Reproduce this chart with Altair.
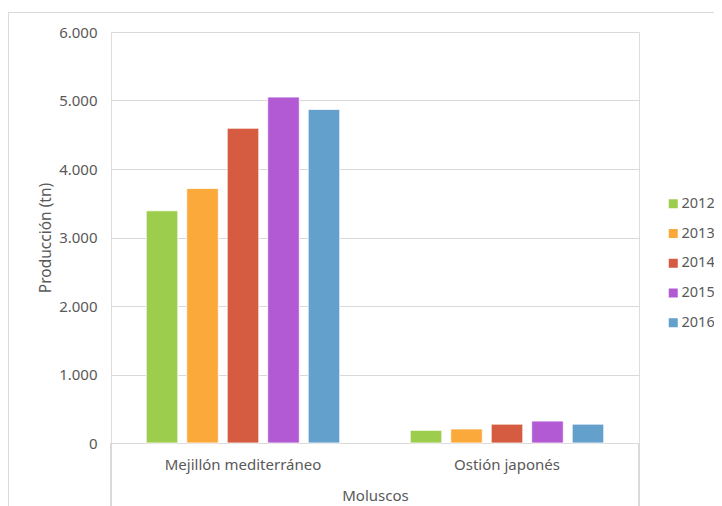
import altair as alt
import pandas as pd

categories = ["Mejillón mediterráneo", "Ostión japonés"]
years = ["2012", "2013", "2014", "2015", "2016"]
mejillon = [3390, 3715, 4595, 5050, 4870]
ostion = [185, 205, 275, 320, 275]
colors = ["#9dcd4c", "#fba93b", "#d55b41", "#b259d4", "#63a1cc"]
y_ticks = [0, 1000, 2000, 3000, 4000, 5000, 6000]

rows = []
for y, v in zip(years, mejillon):
    rows.append({"cat": categories[0], "year": y, "value": v})
for y, v in zip(years, ostion):
    rows.append({"cat": categories[1], "year": y, "value": v})
df = pd.DataFrame(rows)

FONT = "Noto Sans"
GREY = "#595959"
LINE = "#d9d9d9"
W, H = 528, 411

bars = alt.Chart(df).mark_bar(stroke="white", strokeWidth=0.8).encode(
    x=alt.X("cat:N", sort=categories,
            scale=alt.Scale(paddingInner=0, paddingOuter=0),
            axis=alt.Axis(title="Moluscos", labelAngle=0, ticks=False, grid=False,
                          domainColor=LINE, labelPadding=14, labelFontSize=15,
                          labelColor=GREY, labelFont=FONT, titleFont=FONT,
                          titleFontSize=15, titleFontWeight="normal", titleColor=GREY,
                          titleBaseline="alphabetic", titleY=57.5)),
    xOffset=alt.XOffset("year:N", sort=years,
                        scale=alt.Scale(paddingInner=0.22, paddingOuter=0.87)),
    y=alt.Y("value:Q",
            scale=alt.Scale(domain=[0, 6000], nice=False),
            axis=alt.Axis(title="Producción (tn)", values=y_ticks,
                          labelExpr="replace(format(datum.value, ','), ',', '.')",
                          domain=False, ticks=False, gridColor=LINE, labelPadding=14,
                          labelFontSize=15, labelColor=GREY, labelFont=FONT,
                          titleFont=FONT, titleFontSize=15.5, titleFontWeight="normal",
                          titleColor=GREY, titleX=-66, titleBaseline="middle")),
    color=alt.Color("year:N", sort=years,
                    scale=alt.Scale(domain=years, range=colors),
                    legend=alt.Legend(title=None, orient="none", legendX=555, legendY=164.5,
                                      symbolType="square", symbolSize=81,
                                      symbolStrokeWidth=0, labelOffset=1,
                                      labelFontSize=14.5, labelColor=GREY, labelFont=FONT,
                                      rowPadding=14.75, padding=0)),
)

# decorative frame lines (Excel-style chart border and category table box)
frame_v = alt.Chart(df).mark_rule(color=LINE, strokeWidth=1).encode(
    x=alt.value(-102.5), y=alt.value(-19.5), y2=alt.value(480))
frame_h = alt.Chart(df).mark_rule(color=LINE, strokeWidth=1).encode(
    x=alt.value(-103), x2=alt.value(610), y=alt.value(-19.5))
box_l = alt.Chart(df).mark_rule(color=LINE, strokeWidth=1).encode(
    x=alt.value(0), y=alt.value(H), y2=alt.value(480))
box_r = alt.Chart(df).mark_rule(color=LINE, strokeWidth=1).encode(
    x=alt.value(W), y=alt.value(H), y2=alt.value(480))

chart = alt.layer(frame_v, frame_h, box_l, box_r, bars).properties(
    width=W, height=H,
    padding={"left": 103, "top": 24, "right": 75, "bottom": 63},
    autosize=alt.AutoSizeParams(type="none"),
).configure_view(stroke=None).configure(background="white")

chart.save("out.html", embed_options={"renderer": "svg", "actions": False})
